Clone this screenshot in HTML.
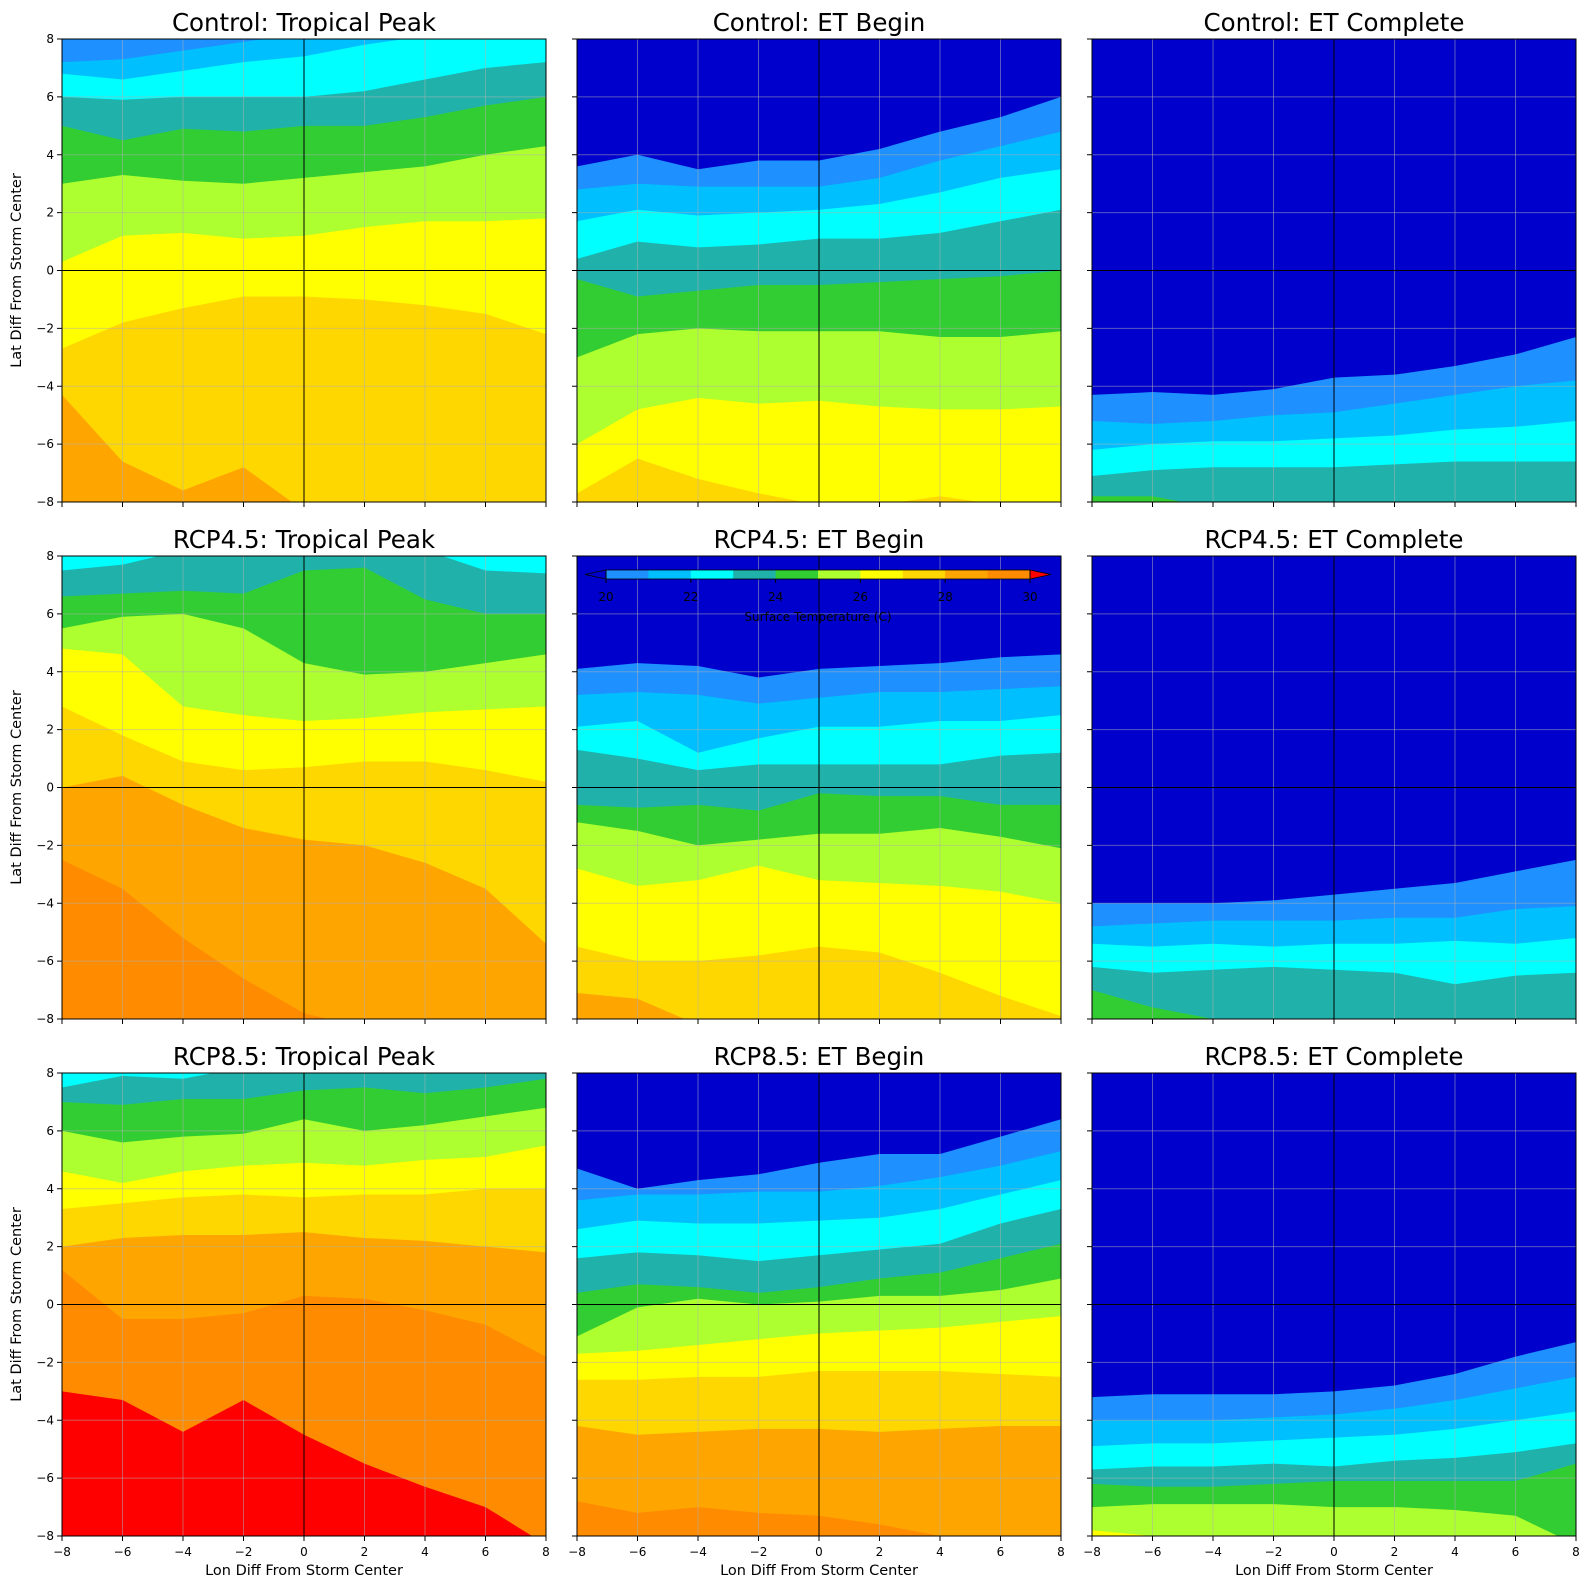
<!DOCTYPE html>
<html><head><meta charset="utf-8"><style>
html,body{margin:0;padding:0;background:#fff;overflow:hidden;width:1589px;height:1589px;font-family:"Liberation Sans","DejaVu Sans",sans-serif}
svg{display:block}
svg text{font-family:"DejaVu Sans","Liberation Sans",sans-serif}
</style></head><body>
<svg id="fig" width="1589" height="1589" xmlns="http://www.w3.org/2000/svg"></svg>
<script>
// colour index: 0:<20 ... 11:>30
const bandColors=["#0000cd","#1e90ff","#00bfff","#00ffff","#20b2aa","#32cd32","#adff2f","#ffff00","#ffd700","#ffa500","#ff8c00","#ff0000"];
const xSamples=[-8,-6,-4,-2,0,2,4,6,8];
const titles=["Control: Tropical Peak","Control: ET Begin","Control: ET Complete","RCP4.5: Tropical Peak","RCP4.5: ET Begin","RCP4.5: ET Complete","RCP8.5: Tropical Peak","RCP8.5: ET Begin","RCP8.5: ET Complete"];
const topBand=[1,0,0,3,0,0,3,0,0];
const p1=[[7.2,7.3,7.6,7.9,8.2,8.2,8.2,8.2,8.2],[6.8,6.6,6.9,7.2,7.4,7.8,8.1,8.2,8.2],[6.0,5.9,6.0,6.0,6.0,6.2,6.6,7.0,7.2],[5.0,4.5,4.9,4.8,5.0,5.0,5.3,5.7,6.0],[3.0,3.3,3.1,3.0,3.2,3.4,3.6,4.0,4.3],[0.3,1.2,1.3,1.1,1.2,1.5,1.7,1.7,1.8],[-2.7,-1.8,-1.3,-0.9,-0.9,-1.0,-1.2,-1.5,-2.2],[-4.3,-6.6,-7.6,-6.8,-8.3,-8.3,-8.3,-8.3,-8.3]];
const p2=[[3.6,4.0,3.5,3.8,3.8,4.2,4.8,5.3,6.0],[2.8,3.0,2.9,2.9,2.9,3.2,3.8,4.3,4.8],[1.7,2.1,1.9,2.0,2.1,2.3,2.7,3.2,3.5],[0.4,1.0,0.8,0.9,1.1,1.1,1.3,1.7,2.1],[-0.3,-0.9,-0.7,-0.5,-0.5,-0.4,-0.3,-0.2,0.0],[-3.0,-2.2,-2.0,-2.1,-2.1,-2.1,-2.3,-2.3,-2.1],[-6.0,-4.8,-4.4,-4.6,-4.5,-4.7,-4.8,-4.8,-4.7],[-7.7,-6.5,-7.2,-7.7,-8.1,-8.1,-7.8,-8.1,-8.1]];
const p3=[[-4.3,-4.2,-4.3,-4.1,-3.7,-3.6,-3.3,-2.9,-2.3],[-5.2,-5.3,-5.2,-5.0,-4.9,-4.6,-4.3,-4.0,-3.8],[-6.2,-6.0,-5.9,-5.9,-5.8,-5.7,-5.5,-5.4,-5.2],[-7.1,-6.9,-6.8,-6.8,-6.8,-6.7,-6.6,-6.6,-6.6],[-7.8,-7.8,-8.2,-8.2,-8.2,-8.2,-8.2,-8.2,-8.2]];
const p4=[[7.5,7.7,8.2,8.2,8.2,8.2,8.2,7.5,7.4],[6.6,6.7,6.8,6.7,7.5,7.6,6.5,6.0,6.0],[5.5,5.9,6.0,5.5,4.3,3.9,4.0,4.3,4.6],[4.8,4.6,2.8,2.5,2.3,2.4,2.6,2.7,2.8],[2.8,1.8,0.9,0.6,0.7,0.9,0.9,0.6,0.2],[0.0,0.4,-0.6,-1.4,-1.8,-2.0,-2.6,-3.5,-5.4],[-2.5,-3.5,-5.2,-6.6,-7.8,-8.3,-8.3,-8.3,-8.3]];
const p5=[[4.1,4.3,4.2,3.8,4.1,4.2,4.3,4.5,4.6],[3.2,3.3,3.2,2.9,3.1,3.3,3.3,3.4,3.5],[2.1,2.3,1.2,1.7,2.1,2.1,2.3,2.3,2.5],[1.3,1.0,0.6,0.8,0.8,0.8,0.8,1.1,1.2],[-0.6,-0.7,-0.6,-0.8,-0.2,-0.3,-0.3,-0.6,-0.6],[-1.2,-1.5,-2.0,-1.8,-1.6,-1.6,-1.4,-1.7,-2.1],[-2.8,-3.4,-3.2,-2.7,-3.2,-3.3,-3.4,-3.6,-4.0],[-5.5,-6.0,-6.0,-5.8,-5.5,-5.7,-6.4,-7.2,-7.9],[-7.1,-7.3,-8.2,-8.2,-8.2,-8.2,-8.2,-8.2,-8.2]];
const p6=[[-4.0,-4.0,-4.0,-3.9,-3.7,-3.5,-3.3,-2.9,-2.5],[-4.8,-4.7,-4.6,-4.6,-4.6,-4.5,-4.5,-4.2,-4.1],[-5.4,-5.5,-5.4,-5.5,-5.4,-5.4,-5.3,-5.4,-5.2],[-6.2,-6.4,-6.3,-6.2,-6.3,-6.4,-6.8,-6.5,-6.4],[-7.0,-7.6,-8.0,-8.2,-8.2,-8.2,-8.2,-8.2,-8.2]];
const p7=[[7.5,7.9,7.8,8.2,8.2,8.2,8.2,8.2,8.2],[7.0,6.9,7.1,7.1,7.4,7.5,7.3,7.5,7.8],[6.0,5.6,5.8,5.9,6.4,6.0,6.2,6.5,6.8],[4.6,4.2,4.6,4.8,4.9,4.8,5.0,5.1,5.5],[3.3,3.5,3.7,3.8,3.7,3.8,3.8,4.0,4.0],[2.0,2.3,2.4,2.4,2.5,2.3,2.2,2.0,1.8],[1.2,-0.5,-0.5,-0.3,0.3,0.2,-0.2,-0.7,-1.8],[-3.0,-3.3,-4.4,-3.3,-4.5,-5.5,-6.3,-7.0,-8.3]];
const p8=[[4.7,4.0,4.3,4.5,4.9,5.2,5.2,5.8,6.4],[3.6,3.8,3.8,3.9,3.9,4.1,4.4,4.8,5.3],[2.6,2.9,2.8,2.8,2.9,3.0,3.3,3.8,4.3],[1.6,1.8,1.7,1.5,1.7,1.9,2.1,2.8,3.3],[0.4,0.7,0.6,0.4,0.6,0.9,1.1,1.6,2.1],[-1.1,-0.1,0.2,0.0,0.1,0.3,0.3,0.5,0.9],[-1.7,-1.6,-1.4,-1.2,-1.0,-0.9,-0.8,-0.6,-0.4],[-2.6,-2.6,-2.5,-2.5,-2.3,-2.3,-2.3,-2.4,-2.5],[-4.2,-4.5,-4.4,-4.3,-4.3,-4.4,-4.3,-4.2,-4.2],[-6.8,-7.2,-7.0,-7.2,-7.3,-7.6,-8.0,-8.3,-8.3]];
const p9=[[-3.2,-3.1,-3.1,-3.1,-3.0,-2.8,-2.4,-1.8,-1.3],[-4.0,-4.0,-4.0,-3.9,-3.8,-3.6,-3.3,-2.9,-2.5],[-4.9,-4.8,-4.8,-4.7,-4.6,-4.5,-4.3,-4.0,-3.7],[-5.7,-5.6,-5.6,-5.5,-5.6,-5.4,-5.3,-5.1,-4.8],[-6.2,-6.3,-6.3,-6.2,-6.1,-6.1,-6.1,-6.1,-5.5],[-7.0,-6.9,-6.9,-6.9,-7.0,-7.0,-7.1,-7.3,-8.3],[-7.8,-8.0,-8.3,-8.3,-8.3,-8.3,-8.3,-8.3,-8.3]];
const panels=[p1,p2,p3,p4,p5,p6,p7,p8,p9];
const ticks=[-8,-6,-4,-2,0,2,4,6,8];
const cbLabels=[20,22,24,26,28,30];

const NS="http://www.w3.org/2000/svg";
const svg=document.getElementById('fig');
function mk(tag,attrs,parent){const e=document.createElementNS(NS,tag);for(const k in attrs)e.setAttribute(k,attrs[k]);(parent||svg).appendChild(e);return e;}
const colX=[62,577,1092], rowY=[39,556,1073], W=484, H=463;
panels.forEach((bounds,i)=>{
  const r=Math.floor(i/3), c=i%3, x0=colX[c], y0=rowY[r];
  const sx=v=>x0+(v+8)/16*W, sy=v=>y0+(8-v)/16*H;
  const g=mk('g',{});
  
  
  const cid='clip'+i;
  const cp=mk('clipPath',{id:cid},g); mk('rect',{x:x0,y:y0,width:W,height:H},cp);
  const inner=mk('g',{'clip-path':'url(#'+cid+')'},g);
  const bg=mk('rect',{x:x0,y:y0,width:W,height:H,fill:bandColors[topBand[i]]},inner);
  
  
  bounds.forEach((b,k)=>{
    let d='M'+sx(-8)+','+sy(b[0]);
    for(let j=1;j<xSamples.length;j++) d+=' L'+sx(xSamples[j])+','+sy(b[j]);
    d+=' L'+sx(8)+','+(y0+H+5)+' L'+sx(-8)+','+(y0+H+5)+'Z';
    const p=mk('path',{d:d,fill:bandColors[topBand[i]+k+1]},inner);
    
    
  });
  ticks.forEach(t=>{
    mk('line',{x1:sx(t),x2:sx(t),y1:y0,y2:y0+H,stroke:'#b0b0b0','stroke-opacity':0.5,'stroke-width':1},inner);
    mk('line',{x1:x0,x2:x0+W,y1:sy(t),y2:sy(t),stroke:'#b0b0b0','stroke-opacity':0.5,'stroke-width':1},inner);
    mk('line',{x1:sx(t),x2:sx(t),y1:y0+H,y2:y0+H+5,stroke:'#000'},g);
    mk('line',{x1:x0-5,x2:x0,y1:sy(t),y2:sy(t),stroke:'#000'},g);
    if(r===2){const tx=mk('text',{x:sx(t),y:y0+H+20,'font-size':12,'text-anchor':'middle'},g);tx.textContent=(t<0?'\u2212'+(-t):t);
      }
    if(c===0){const ty=mk('text',{x:x0-8,y:sy(t)+4,'font-size':12,'text-anchor':'end'},g);ty.textContent=(t<0?'\u2212'+(-t):t);
      }
  });
  mk('line',{x1:sx(0),x2:sx(0),y1:y0,y2:y0+H,stroke:'#000','stroke-width':1},g);
  mk('line',{x1:x0,x2:x0+W,y1:sy(0),y2:sy(0),stroke:'#000','stroke-width':1},g);
  mk('rect',{x:x0,y:y0,width:W,height:H,fill:'none',stroke:'#000','stroke-width':1},g);
  const tt=mk('text',{x:x0+W/2,y:y0-8,'font-size':24.5,'text-anchor':'middle'},g);tt.textContent=titles[i];
  
  if(r===2){const xl=mk('text',{x:x0+W/2,y:y0+H+39,'font-size':14.5,'text-anchor':'middle'},g);xl.textContent='Lon Diff From Storm Center';
    }
  if(c===0){const yl=mk('text',{x:0,y:0,'font-size':14.5,'text-anchor':'middle',transform:'translate(21,'+(y0+H/2)+') rotate(-90)'},g);yl.textContent='Lat Diff From Storm Center';
    }
});
// colorbar
const cb=mk('g',{});


const cbx0=606, cbx1=1030, cby=570, cbh=9, cw=(cbx1-cbx0)/10;
for(let k=0;k<10;k++) mk('rect',{x:cbx0+k*cw,y:cby,width:cw+0.5,height:cbh,fill:bandColors[k+1]},cb);
mk('polygon',{points:`${cbx0},${cby} ${cbx0-21},${cby+cbh/2} ${cbx0},${cby+cbh}`,fill:bandColors[0],stroke:'#000','stroke-width':0.8},cb);
mk('polygon',{points:`${cbx1},${cby} ${cbx1+21},${cby+cbh/2} ${cbx1},${cby+cbh}`,fill:bandColors[11],stroke:'#000','stroke-width':0.8},cb);
mk('rect',{x:cbx0,y:cby,width:cbx1-cbx0,height:cbh,fill:'none',stroke:'#000','stroke-width':0.8},cb);
cbLabels.forEach(v=>{const X=cbx0+(v-20)/10*(cbx1-cbx0);
  mk('line',{x1:X,x2:X,y1:cby+cbh,y2:cby+cbh+4,stroke:'#000'},cb);
  const t=mk('text',{x:X,y:601,'font-size':12,'text-anchor':'middle'},cb);t.textContent=v;
  });
const cl=mk('text',{x:(cbx0+cbx1)/2,y:621,'font-size':12,'text-anchor':'middle'},cb);cl.textContent='Surface Temperature (C)';

</script>
</body></html>
